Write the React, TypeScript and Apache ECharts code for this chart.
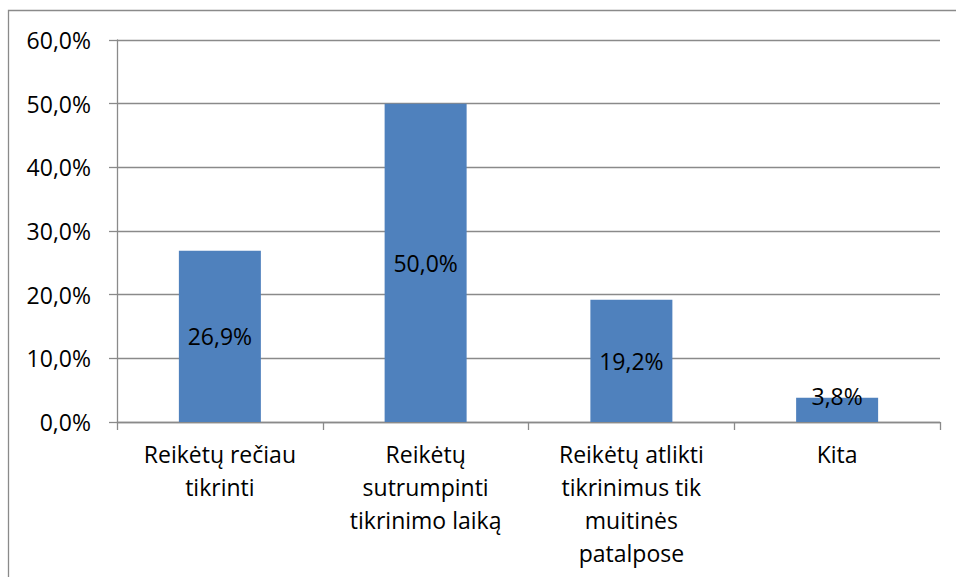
import React, { useEffect, useRef } from "react";
import * as echarts from "echarts";

const categories = [
  "Reikėtų rečiau\ntikrinti",
  "Reikėtų\nsutrumpinti\ntikrinimo laiką",
  "Reikėtų atlikti\ntikrinimus tik\nmuitinės\npatalpose",
  "Kita",
];
const values = [26.9, 50.0, 19.2, 3.8];
const yMin = 0;
const yMax = 60;
const yStep = 10;

const FONT = "'Open Sans', 'Noto Sans', sans-serif";
const fmt = (v: number) => v.toFixed(1).replace(".", ",") + "%";

export default function App() {
  const ref = useRef<HTMLDivElement>(null);
  useEffect(() => {
    document.body.style.margin = "0";
    if (!ref.current) return;
    const chart = echarts.init(ref.current, undefined, { renderer: "svg" });
    chart.setOption({
      animation: false,
      backgroundColor: "#ffffff",
      textStyle: { fontFamily: FONT },
      graphic: [
        {
          type: "rect",
          shape: { x: 8.5, y: 10.5, width: 1200, height: 1000 },
          style: { fill: "none", stroke: "#8a8a8a", lineWidth: 1.3 },
          silent: true,
          z: -1,
        },
      ],
      grid: { left: 117, right: 16, top: 40, bottom: 155, containLabel: false },
      xAxis: {
        type: "category",
        data: categories,
        axisLine: { show: true, lineStyle: { color: "#8a8a8a", width: 1.3 } },
        axisTick: { show: true, length: 8, alignWithLabel: false, lineStyle: { color: "#8a8a8a", width: 1.3 } },
        axisLabel: {
          interval: 0,
          margin: 15,
          color: "#000000",
          fontFamily: FONT,
          fontSize: 23,
          lineHeight: 33,
          align: "center",
        },
      },
      yAxis: {
        type: "value",
        min: yMin,
        max: yMax,
        interval: yStep,
        axisLine: { show: true, lineStyle: { color: "#8a8a8a", width: 1.3 } },
        axisTick: { show: true, length: 8, lineStyle: { color: "#8a8a8a", width: 1.3 } },
        splitLine: { show: true, lineStyle: { color: "#8a8a8a", width: 1.3 } },
        axisLabel: {
          margin: 26,
          color: "#000000",
          fontFamily: FONT,
          fontSize: 23,
          formatter: (v: number) => fmt(v),
        },
      },
      series: [
        {
          type: "bar",
          barWidth: 82,
          itemStyle: { color: "#4F81BD" },
          label: {
            show: true,
            position: "inside",
            color: "#000000",
            fontFamily: FONT,
            fontSize: 23,
            formatter: (p: any) => fmt(p.value),
          },
          data: values.map((v, i) =>
            i === 3 ? { value: v, label: { offset: [0, -14] } } : { value: v }
          ),
        },
      ],
    });
    return () => chart.dispose();
  }, []);
  return <div ref={ref} style={{ width: 956, height: 577 }} />;
}
